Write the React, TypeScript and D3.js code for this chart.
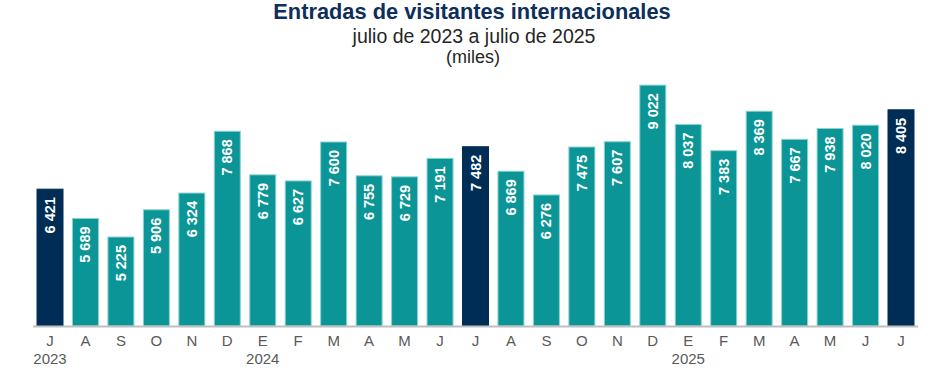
import React from "react";
import * as d3 from "d3";

const months = ["J","A","S","O","N","D","E","F","M","A","M","J","J","A","S","O","N","D","E","F","M","A","M","J","J"];
const values = [6421,5689,5225,5906,6324,7868,6779,6627,7600,6755,6729,7191,7482,6869,6276,7475,7607,9022,8037,7383,8369,7667,7938,8020,8405];
const highlight = [0, 12, 24];
const yearLabels = [{ idx: 0, label: "2023" }, { idx: 6, label: "2024" }, { idx: 18, label: "2025" }];

const W = 947, H = 374;
const fmt = (v: number) => {
  const s = String(v);
  return s.length > 3 ? s.slice(0, s.length - 3) + " " + s.slice(-3) : s;
};

export default function App() {
  const idx = values.map((_, i) => i);
  const x = d3.scaleBand<number>().domain(idx).range([32.4, 918.6]).paddingInner(0.267).paddingOuter(0.13);
  const y = d3.scaleLinear().domain([3000, 9500]).range([326, 66]);
  const font = "'Liberation Sans', Arial, sans-serif";
  return (
    <svg width={W} height={H} style={{ position: "absolute", left: 0, top: 0 }} fontFamily={font}>
      <rect width={W} height={H} fill="#fff" />
      <text x={472} y={19} textAnchor="middle" fontSize={21.8} fontWeight="bold" fill="#0d2f5a">Entradas de visitantes internacionales</text>
      <text x={474} y={43} textAnchor="middle" fontSize={19.5} fill="#262626">julio de 2023 a julio de 2025</text>
      <text x={473} y={63} textAnchor="middle" fontSize={18} fill="#262626">(miles)</text>
      {values.map((v, i) => {
        const bx = x(i)!;
        const top = y(v);
        const hi = highlight.includes(i);
        return (
          <g key={i}>
            <rect x={bx} y={top} width={x.bandwidth()} height={y(3000) - top}
              fill={hi ? "#002d56" : "#0b9596"} stroke={hi ? "#002d56" : "#8ad3d1"} strokeWidth={1} />
            <text transform={`translate(${bx + x.bandwidth() / 2 + 5},${top + 8}) rotate(-90)`}
              textAnchor="end" fontSize={14.5} fontWeight="bold" fill="#fff">{fmt(v)}</text>
          </g>
        );
      })}
      <line x1={33} x2={918} y1={326.5} y2={326.5} stroke="#bfbfbf" strokeWidth={2} />
      {months.map((m, i) => (
        <text key={i} x={x(i)! + x.bandwidth() / 2} y={346} textAnchor="middle" fontSize={15} fill="#595959">{m}</text>
      ))}
      {yearLabels.map((d) => (
        <text key={d.label} x={x(d.idx)! + x.bandwidth() / 2} y={364} textAnchor="middle" fontSize={15} fill="#595959">{d.label}</text>
      ))}
    </svg>
  );
}
